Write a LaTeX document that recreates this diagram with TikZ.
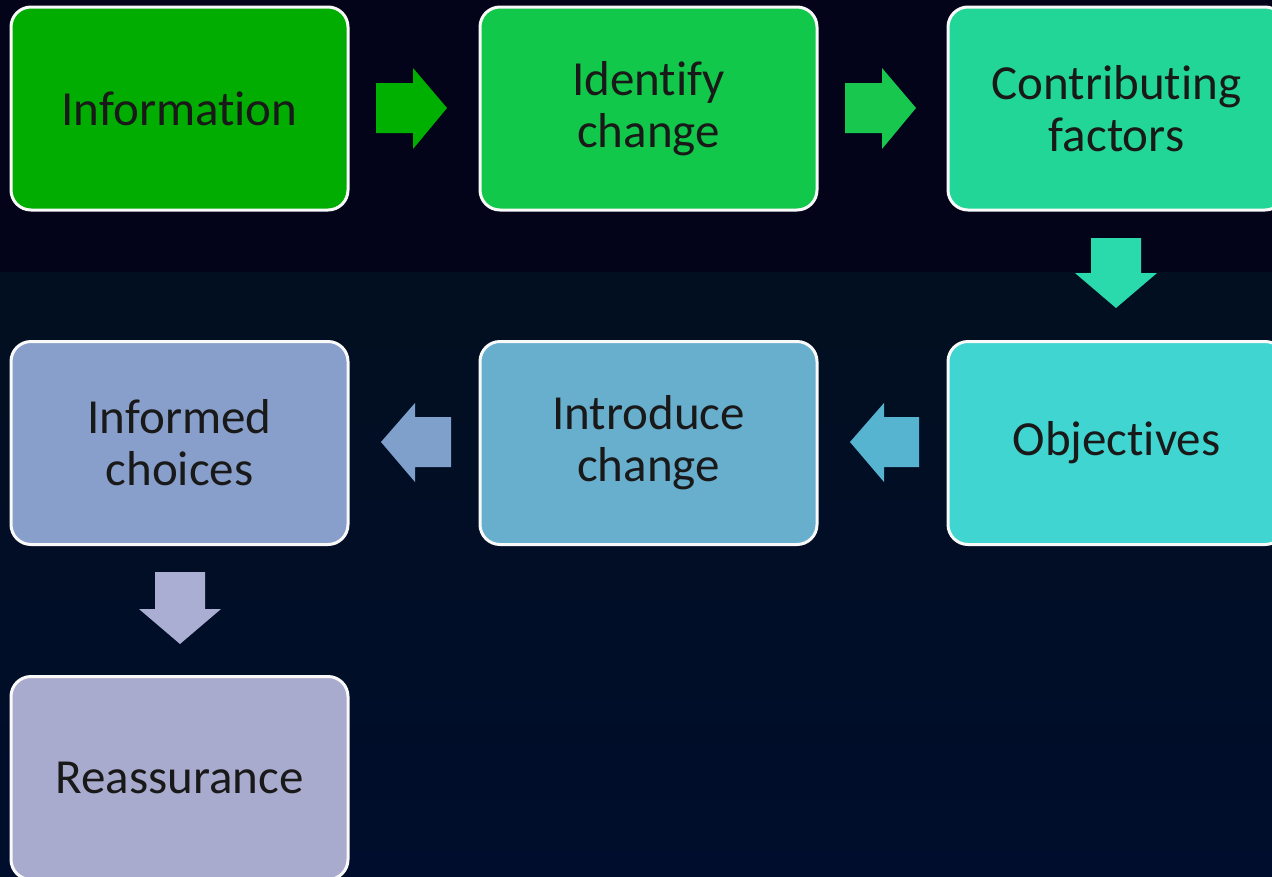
\documentclass[tikz,border=0pt]{standalone}
\usepackage{fontspec}
\setmainfont{Carlito}[Ligatures={NoCommon,NoContextual}]
\definecolor{bgtop}{HTML}{03041A}
\definecolor{bgmid}{HTML}{020F20}
\definecolor{bgbot}{HTML}{000D2C}
\definecolor{cA}{HTML}{00AD00}
\definecolor{cB}{HTML}{12C84A}
\definecolor{cC}{HTML}{22D697}
\definecolor{cD}{HTML}{40D5D0}
\definecolor{cE}{HTML}{68AECD}
\definecolor{cF}{HTML}{889FCB}
\definecolor{cG}{HTML}{A9ABCE}
\definecolor{aA}{HTML}{00B000}
\definecolor{aB}{HTML}{17C74E}
\definecolor{aC}{HTML}{2AD9AC}
\definecolor{aD}{HTML}{56B4D0}
\definecolor{aE}{HTML}{7FA0CB}
\definecolor{aF}{HTML}{AAAED3}
\tikzset{
  stepbox/.style={draw=white!95!gray, line width=3pt, rounded corners=20pt,
    minimum width=337pt, minimum height=203pt, align=center, text=black!90,
    font=\fontsize{49}{52}\selectfont, inner sep=0pt}
}
\begin{document}
\begin{tikzpicture}[x=1pt,y=-1pt]
\useasboundingbox (0,0) rectangle (1272,876);
\fill[bgtop] (0,0) rectangle (1272,272);
\shade[top color=bgmid, bottom color=bgbot] (0,272) rectangle (1272,876);
% boxes
\node[stepbox, fill=cA] (info) at (179.5,108.5) {Information};
\node[stepbox, fill=cB] (ident) at (648.5,108.5) {Identify\\change};
\node[stepbox, fill=cC] (contr) at (1116.5,108.5) {Contributing\\factors};
\node[stepbox, fill=cD] (obj) at (1116.5,443) {Objectives};
\node[stepbox, fill=cE] (intro) at (648.5,443) {Introduce\\change};
\node[stepbox, fill=cF] (inform) at (179.5,443) {Informed\\choices};
\node[stepbox, fill=cG] (reass) at (179.5,778) {Reassurance};
% block arrows
\fill[aA] (376,83) -- (413,83) -- (413,68) -- (447,108) -- (413,149) -- (413,133) -- (376,133) -- cycle;
\fill[aB] (845,83) -- (882,83) -- (882,68) -- (916,108) -- (882,149) -- (882,133) -- (845,133) -- cycle;
\fill[aC] (1091,238) -- (1141,238) -- (1141,273) -- (1157,273) -- (1116,308) -- (1075,273) -- (1091,273) -- cycle;
\fill[aD] (919,417) -- (884,417) -- (884,403) -- (850,442) -- (884,482) -- (884,467) -- (919,467) -- cycle;
\fill[aE] (451,417) -- (415,417) -- (415,403) -- (381,442) -- (415,482) -- (415,467) -- (451,467) -- cycle;
\fill[aF] (155,572) -- (205,572) -- (205,609) -- (221,609) -- (180,644) -- (139,609) -- (155,609) -- cycle;
\end{tikzpicture}
\end{document}
